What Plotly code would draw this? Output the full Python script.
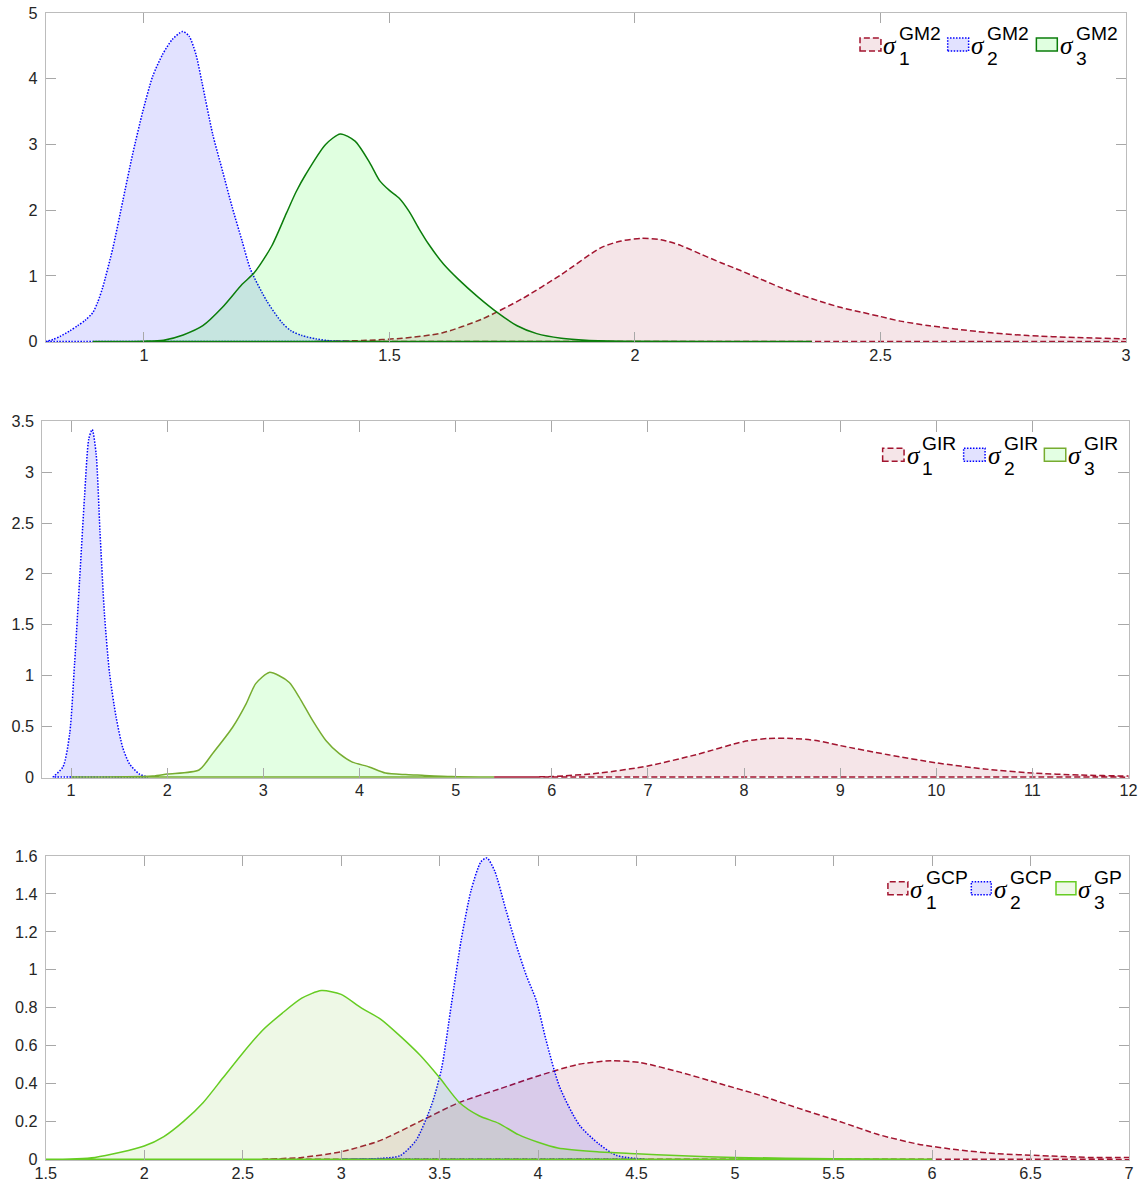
import numpy as np
import plotly.graph_objects as go

# target picture size and the page-to-picture mapping of the viewer
W, H = 1141, 1187
OFF = 8                          # default body margin around the figure
SX, SY = 1141 / 1157, 1187 / 1203
FW, FH = 1149, 1195              # figure size in CSS pixels

# ---------------- panel 1 : GM2 ----------------
gm2_s1_x = [1.35, 1.445, 1.526, 1.607, 1.688, 1.77, 1.85, 1.931, 1.972, 2.013, 2.053,
            2.094, 2.134, 2.175, 2.215, 2.256, 2.297, 2.337, 2.378, 2.418, 2.459, 2.50,
            2.54, 2.60, 2.70, 2.80, 2.90, 3.00, 3.05]
gm2_s1_y = [0.0, 0.015, 0.05, 0.13, 0.34, 0.65, 1.02, 1.43, 1.53, 1.57, 1.55,
            1.46, 1.33, 1.20, 1.08, 0.95, 0.82, 0.71, 0.61, 0.52, 0.45, 0.38,
            0.31, 0.24, 0.15, 0.09, 0.06, 0.04, 0.035]

gm2_s2_x = [0.80, 0.815, 0.83, 0.849, 0.865, 0.88, 0.896, 0.906, 0.916, 0.937, 0.957,
            0.977, 0.998, 1.018, 1.038, 1.058, 1.079, 1.092, 1.106, 1.119, 1.14, 1.16,
            1.18, 1.20, 1.217, 1.25, 1.282, 1.30, 1.322, 1.35, 1.38, 1.42]
gm2_s2_y = [0.0, 0.03, 0.08, 0.16, 0.24, 0.32, 0.44, 0.60, 0.82, 1.43, 2.14,
            2.85, 3.51, 4.04, 4.37, 4.60, 4.72, 4.65, 4.37, 3.92, 3.16, 2.60,
            2.04, 1.53, 1.10, 0.62, 0.28, 0.16, 0.09, 0.04, 0.01, 0.0]

gm2_s3_x = [0.896, 1.0, 1.04, 1.08, 1.12, 1.16, 1.20, 1.225, 1.26, 1.29, 1.31, 1.33,
            1.37, 1.40, 1.43, 1.46, 1.48, 1.50, 1.52, 1.54, 1.56, 1.58, 1.61, 1.64,
            1.68, 1.72, 1.76, 1.80, 1.85, 1.90, 2.0, 2.36]
gm2_s3_y = [0.0, 0.005, 0.02, 0.10, 0.24, 0.52, 0.87, 1.05, 1.45, 1.95, 2.28, 2.55,
            3.0, 3.16, 3.05, 2.72, 2.45, 2.30, 2.18, 1.98, 1.72, 1.48, 1.18, 0.95,
            0.68, 0.44, 0.24, 0.12, 0.05, 0.02, 0.005, 0.0]

# ---------------- panel 2 : GIR ----------------
gir_s1_x = [5.4, 6.0, 6.5, 7.0, 7.5, 8.0, 8.25, 8.5, 8.75, 9.0, 9.5, 10.0, 10.5,
            11.0, 11.5, 12.0, 12.2]
gir_s1_y = [0.0, 0.005, 0.04, 0.11, 0.22, 0.35, 0.38, 0.38, 0.36, 0.31, 0.22, 0.14,
            0.08, 0.04, 0.02, 0.01, 0.01]

gir_s2_x = [0.81, 0.915, 0.985, 1.036, 1.088, 1.14, 1.184, 1.219, 1.26, 1.30, 1.347,
            1.40, 1.468, 1.537, 1.607, 1.71, 1.80]
gir_s2_y = [0.0, 0.10, 0.43, 1.12, 1.94, 2.77, 3.33, 3.42, 3.18, 2.42, 1.60,
            1.02, 0.59, 0.29, 0.13, 0.03, 0.0]

gir_s3_x = [1.0, 1.849, 2.0, 2.33, 2.47, 2.68, 2.82, 2.92, 3.06, 3.16, 3.27, 3.37,
            3.51, 3.65, 3.79, 3.92, 4.10, 4.27, 4.48, 4.60, 4.96, 5.4]
gir_s3_y = [0.0, 0.01, 0.03, 0.07, 0.23, 0.49, 0.72, 0.92, 1.03, 1.00, 0.93, 0.79,
            0.56, 0.36, 0.23, 0.15, 0.10, 0.04, 0.025, 0.02, 0.005, 0.0]

# ---------------- panel 3 : GCP / GP ----------------
gcp_s1_x = [2.6, 2.8, 3.0, 3.2, 3.4, 3.6, 3.8, 4.0, 4.2, 4.37, 4.52, 4.72, 4.92,
            5.12, 5.32, 5.53, 5.73, 5.93, 6.13, 6.33, 6.54, 6.8, 7.0, 7.1]
gcp_s1_y = [0.0, 0.01, 0.04, 0.10, 0.20, 0.30, 0.37, 0.44, 0.50, 0.52, 0.51, 0.46, 0.40,
            0.34, 0.27, 0.20, 0.13, 0.08, 0.05, 0.03, 0.02, 0.01, 0.01, 0.01]

gcp_s2_x = [3.0, 3.2, 3.3, 3.38, 3.46, 3.51, 3.56, 3.61, 3.66, 3.71, 3.74, 3.78, 3.83,
            3.88, 3.94, 3.99, 4.04, 4.11, 4.21, 4.31, 4.40, 4.55]
gcp_s2_y = [0.0, 0.005, 0.02, 0.10, 0.29, 0.48, 0.82, 1.16, 1.42, 1.57, 1.59, 1.52, 1.34,
            1.16, 0.97, 0.84, 0.63, 0.38, 0.18, 0.08, 0.02, 0.0]

gp_s3_x = [1.5, 1.75, 2.0, 2.1, 2.2, 2.3, 2.4, 2.5, 2.6, 2.7, 2.8, 2.9, 3.0, 3.1, 3.2,
           3.3, 3.4, 3.5, 3.6, 3.7, 3.8, 3.9, 4.0, 4.1, 4.3, 4.5, 4.7, 5.0, 5.5, 6.0]
gp_s3_y = [0.0, 0.01, 0.07, 0.12, 0.20, 0.30, 0.43, 0.56, 0.68, 0.77, 0.85, 0.89, 0.87,
           0.80, 0.74, 0.65, 0.55, 0.43, 0.30, 0.23, 0.19, 0.13, 0.09, 0.06, 0.04, 0.03,
           0.02, 0.01, 0.003, 0.0]

# ---------------- axes ticks ----------------
x1_ticks = [1, 1.5, 2, 2.5, 3]
x1_labels = ["1", "1.5", "2", "2.5", "3"]
y1_ticks = [0, 1, 2, 3, 4, 5]
y1_labels = ["0", "1", "2", "3", "4", "5"]
x2_ticks = list(range(1, 13))
x2_labels = [str(v) for v in x2_ticks]
y2_ticks = [0, 0.5, 1, 1.5, 2, 2.5, 3, 3.5]
y2_labels = ["0", "0.5", "1", "1.5", "2", "2.5", "3", "3.5"]
x3_ticks = [1.5, 2, 2.5, 3, 3.5, 4, 4.5, 5, 5.5, 6, 6.5, 7]
x3_labels = ["1.5", "2", "2.5", "3", "3.5", "4", "4.5", "5", "5.5", "6", "6.5", "7"]
y3_ticks = [0, 0.2, 0.4, 0.6, 0.8, 1, 1.2, 1.4, 1.6]
y3_labels = ["0", "0.2", "0.4", "0.6", "0.8", "1", "1.2", "1.4", "1.6"]

# ---------------- styles ----------------
RED = "#A2142F"
RED_FILL = "rgba(162,20,47,0.11)"
BLUE = "#0000FF"
BLUE_FILL = "rgba(0,0,255,0.115)"
GREEN1 = "#0B7D0B"
GREEN1_FILL = "rgba(0,255,0,0.12)"
GREEN2 = "#77AC30"
GREEN2_FILL = "rgba(0,255,0,0.11)"
GREEN3 = "#66CC22"
GREEN3_FILL = "rgba(119,200,48,0.12)"

DASH_RED = "6px,3px"
DOT_BLUE = "1.5px,1.5px"
LW = 1.5

# panel geometry in picture pixels: (left, right), (top, bottom of y=0)
panels = [
    dict(x=(42.7, 1127.0), y=(12.0, 340.7), xr=(0.8, 3.0), yr=(0.0, 5.0),
         xt=(x1_ticks, x1_labels), yt=(y1_ticks, y1_labels)),
    dict(x=(39.3, 1129.5), y=(420.7, 776.7), xr=(0.7, 12.0), yr=(0.0, 3.5),
         xt=(x2_ticks, x2_labels), yt=(y2_ticks, y2_labels)),
    dict(x=(42.7, 1130.0), y=(855.7, 1159.3), xr=(1.5, 7.0), yr=(0.0, 1.6),
         xt=(x3_ticks, x3_labels), yt=(y3_ticks, y3_labels)),
]

series = [
    [(gm2_s1_x, gm2_s1_y, RED, RED_FILL, DASH_RED),
     (gm2_s2_x, gm2_s2_y, BLUE, BLUE_FILL, DOT_BLUE),
     (gm2_s3_x, gm2_s3_y, GREEN1, GREEN1_FILL, "solid")],
    [(gir_s1_x, gir_s1_y, RED, RED_FILL, DASH_RED),
     (gir_s2_x, gir_s2_y, BLUE, BLUE_FILL, DOT_BLUE),
     (gir_s3_x, gir_s3_y, GREEN2, GREEN2_FILL, "solid")],
    [(gcp_s1_x, gcp_s1_y, RED, RED_FILL, DASH_RED),
     (gcp_s2_x, gcp_s2_y, BLUE, BLUE_FILL, DOT_BLUE),
     (gp_s3_x, gp_s3_y, GREEN3, GREEN3_FILL, "solid")],
]

legend_text = [
    [("1", "GM2"), ("2", "GM2"), ("3", "GM2")],
    [("1", "GIR"), ("2", "GIR"), ("3", "GIR")],
    [("1", "GCP"), ("2", "GCP"), ("3", "GP")],
]
# legend icon left edges and vertical centre (picture pixels)
legend_pos = [
    ([860.0, 948.0, 1037.0], 43.5, 21.0),
    ([882.7, 964.0, 1045.0], 454.0, 21.5),
    ([888.0, 971.7, 1056.7], 888.0, 20.0),
]


def px(xp):
    """picture x pixel -> paper fraction"""
    return (xp / SX - OFF) / FW


def py(yp):
    """picture y pixel -> paper fraction"""
    return 1 - (yp / SY - OFF) / FH


K = 1 / SX   # size compensation for the viewer scale
TICK_FONT = dict(family="Liberation Sans, Arial, sans-serif", size=16 * K, color="#262626")
fig = go.Figure()
layout = dict(width=FW, height=FH, margin=dict(l=0, r=0, t=0, b=0),
              paper_bgcolor="white", plot_bgcolor="white", showlegend=False)

shapes, annotations = [], []
for i, p in enumerate(panels):
    k = "" if i == 0 else str(i + 1)
    left, right = p["x"]
    top, bottom = p["y"]
    y0, y1 = p["yr"]
    pad_px = 0.8
    ypad = pad_px * (y1 - y0) / (bottom - top)
    axis_common = dict(
        showline=True, linecolor="#bcbcbc", linewidth=1, mirror="ticks",
        ticks="inside", ticklen=10 * K, tickcolor="#a8a8a8", tickwidth=1,
        showgrid=False, zeroline=False, tickfont=TICK_FONT, fixedrange=True,
        tickmode="array")
    layout["xaxis" + k] = dict(
        domain=[px(left), px(right)], range=list(p["xr"]), anchor="y" + k,
        tickvals=p["xt"][0], ticktext=p["xt"][1], ticklabelstandoff=-2,
        **axis_common)
    layout["yaxis" + k] = dict(
        domain=[py(bottom + pad_px), py(top)], range=[y0 - ypad, y1],
        anchor="x" + k, tickvals=p["yt"][0], ticktext=p["yt"][1],
        ticklabelstandoff=4, **axis_common)

    for xs, ys, col, fill, dash in series[i]:
        # smoothed density curve, closed back along a straight baseline
        base = np.linspace(xs[-1], xs[0], 25).tolist()
        ox = [xs[0]] + list(xs) + base
        oy = [0.0] + list(ys) + [0.0] * len(base)
        fig.add_trace(go.Scatter(
            x=ox, y=oy, mode="lines", fill="toself", fillcolor=fill,
            line=dict(color=col, width=LW, dash=dash, shape="spline", smoothing=0.7),
            xaxis="x" + k, yaxis="y" + k, hoverinfo="skip"))

    # legend: icon box, sigma, stacked sub/superscript
    xs0, cy, wbox = legend_pos[i]
    for j, (x0, (sub, sup)) in enumerate(zip(xs0, legend_text[i])):
        col, fill, dash = series[i][j][2], series[i][j][3], series[i][j][4]
        shapes.append(dict(
            type="rect", xref="paper", yref="paper",
            x0=px(x0), x1=px(x0 + wbox),
            y0=py(cy + 6.5), y1=py(cy - 6.5),
            line=dict(color=col, width=LW, dash=dash), fillcolor=fill))
        x1 = x0 + wbox
        annotations.append(dict(
            xref="paper", yref="paper", x=px(x1 + 0.5), y=py(cy + 0.5),
            xanchor="left", yanchor="middle", showarrow=False,
            text="<i>σ</i>",
            font=dict(family="Liberation Serif, serif", size=25 * K, color="black")))
        annotations.append(dict(
            xref="paper", yref="paper", x=px(x1 + 16.5), y=py(cy - 11),
            xanchor="left", yanchor="middle", showarrow=False, text=sup,
            font=dict(family="Liberation Sans, Arial, sans-serif", size=19 * K,
                      color="black")))
        annotations.append(dict(
            xref="paper", yref="paper", x=px(x1 + 16.5), y=py(cy + 14),
            xanchor="left", yanchor="middle", showarrow=False, text=sub,
            font=dict(family="Liberation Sans, Arial, sans-serif", size=19 * K,
                      color="black")))

layout["shapes"] = shapes
layout["annotations"] = annotations
fig.update_layout(**layout)
fig.write_html("out.html")
